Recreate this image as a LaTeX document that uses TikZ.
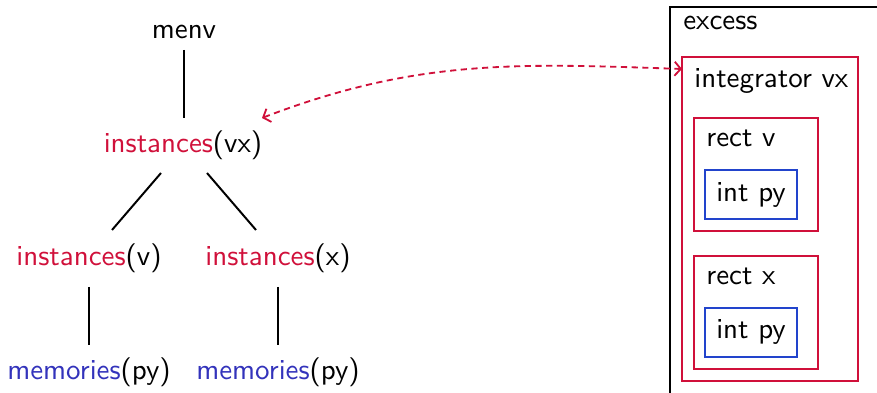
\documentclass[tikz,border=0pt]{standalone}
\usepackage{tikz}
\usetikzlibrary{arrows.meta, positioning}
\definecolor{instred}{HTML}{D0103A}
\definecolor{memblue}{HTML}{3333BB}
\definecolor{boxblue}{HTML}{2244CC}

\begin{document}
\begin{tikzpicture}[
      x=0.0125cm, y=-0.0125cm,
      every node/.style={font=\sffamily\fontsize{10.3}{12}\selectfont, inner sep=1pt},
      edge/.style={draw, line width=0.7pt},
      redbox/.style={draw=instred, line width=0.45pt},
      bluebox/.style={draw=boxblue, line width=0.45pt},
      outerbox/.style={draw, line width=0.8pt},
      label/.style={anchor=west},
      link/.style={draw=instred, line width=0.65pt, dash pattern=on 2.2pt off 1.6pt,
                   {Straight Barb[length=2.2pt, width=5pt]}-{Straight Barb[length=2.2pt, width=5pt]}},
    ]
    \useasboundingbox (0,0) rectangle (877,393);

    % tree of instances
    \node (menv) at (184, 32) {menv};
    \node (ivx) at (183, 145) {\textcolor{instred}{instances}(vx)};
    \node (iv) at (89, 258) {\textcolor{instred}{instances}(v)};
    \node (ix) at (278, 258) {\textcolor{instred}{instances}(x)};
    \node (mv) at (89, 372) {\textcolor{memblue}{memories}(py)};
    \node (mx) at (278, 372) {\textcolor{memblue}{memories}(py)};

    \draw[edge] ([shift={(0, 18)}]menv.center) -- ([shift={(1, -27)}]ivx.center);
    \draw[edge] ([shift={(-22, 28)}]ivx.center) -- ([shift={(23, -28)}]iv.center);
    \draw[edge] ([shift={(24, 28)}]ivx.center) -- ([shift={(-22, -28)}]ix.center);
    \draw[edge] ([shift={(0, 29)}]iv.center) -- ([shift={(0, -27)}]mv.center);
    \draw[edge] ([shift={(0, 29)}]ix.center) -- ([shift={(0, -27)}]mx.center);

    % nested boxes
    \draw[outerbox] (670, 393) -- (670, 7) -- (877, 7);
    \node[label] (excess) at (680, 23) {excess};

    \draw[redbox] (682, 57) rectangle (858, 381);
    \node[label] (integ) at (691, 81) {integrator vx};
    \coordinate (integin) at (682, 69);

    \draw[redbox] (694, 118) rectangle (818, 231);
    \node[label] (rectv) at (703, 138) {rect v};
    \draw[bluebox] (705, 170) rectangle (797, 219);
    \node (intv) at (751, 195) {int py};

    \draw[redbox] (694, 256) rectangle (818, 369);
    \node[label] (rectx) at (703, 276) {rect x};
    \draw[bluebox] (705, 308) rectangle (797, 357);
    \node (intx) at (751, 332) {int py};

    % correspondence
    \coordinate (ivxout) at (262, 118);
    \draw[link] (ivxout) to[out=21, in=178] (integin);
  \end{tikzpicture}
\end{document}
